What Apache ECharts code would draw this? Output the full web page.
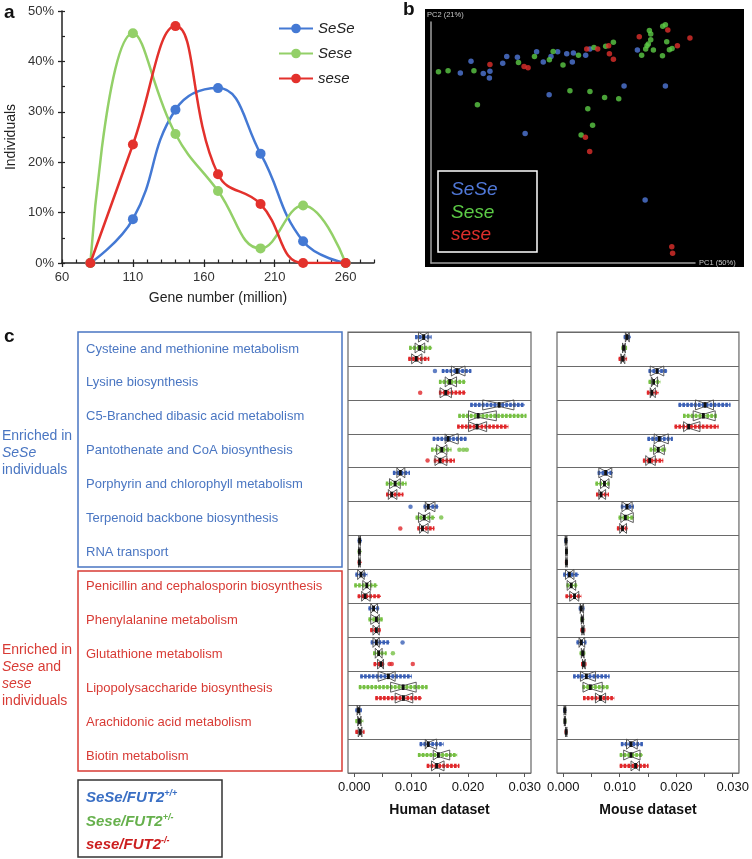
<!DOCTYPE html>
<html>
<head>
<meta charset="utf-8">
<script src="https://cdn.jsdelivr.net/npm/echarts@6/dist/echarts.min.js"></script>
<style>
  html, body { margin: 0; padding: 0; background: #fff; }
  #chart { width: 752px; height: 859px; }
</style>
</head>
<body>
<div id="chart"></div>
<script>
// ---- panel a: gene number distribution ----
const geneNumbers = [80, 110, 140, 170, 200, 230, 260];
const pctSeSe = [0, 8.7, 30.4, 34.7, 21.7, 4.3, 0];
const pctSese = [0, 45.6, 25.6, 14.3, 2.9, 11.4, 0];
const pctsese = [0, 23.5, 47.0, 17.6, 11.7, 0, 0];

// ---- panel b: PCA scores [PC1, PC2] ----
const pcaSeSe = [[15, 75.3], [11, 71], [19.6, 70.8], [22.1, 71.6], [21.9, 69.1], [26.9, 74.6], [28.4, 77.1],
  [32.4, 76.8], [39.6, 78.9], [42.1, 75.1], [45, 77.1], [47.5, 78.9], [50.9, 78.1], [53.4, 78.4], [53, 75.1],
  [58, 77.6], [59.6, 79.9], [44.3, 62.8], [35.3, 48.4], [72.4, 66.1], [77.4, 79.5], [87.9, 66.1], [80.3, 23.5]];
const pcaSese = [[2.8, 71.4], [6.4, 71.8], [16.1, 71.8], [17.4, 59.1], [32.8, 74.9], [38.8, 77.1], [44.4, 75.9],
  [45.8, 79], [49.5, 73.9], [55.3, 77.6], [61.1, 80.5], [65.5, 80.9], [68.4, 82.4], [52.1, 64.3], [59.6, 64],
  [58.8, 57.6], [60.6, 51.4], [56.3, 47.8], [65.1, 61.8], [70.4, 61.3], [79, 77.6], [80.5, 79.9], [81, 81.1],
  [81.9, 86.8], [82.4, 85.5], [82.4, 83.4], [81.5, 81.8], [83.4, 79.5], [86.8, 77.4], [86.9, 88.4], [87.9, 89],
  [88.4, 82.6], [89.4, 79.6], [90.4, 80.1]];
const pcasese = [[22.1, 74.1], [34.9, 73.4], [36.4, 72.9], [58.4, 79.9], [62.5, 79.9], [66.6, 81.1], [66.9, 78.1],
  [68.4, 76.1], [78.1, 84.5], [88.8, 87], [92.4, 81.1], [97.1, 84], [57.9, 47], [59.5, 41.6], [90.3, 6.1], [90.6, 3.6]];

// ---- panel c: relative abundance (x 1e-3), [min, q1, median, q3, max] per pathway ----
const pathways = ['Cysteine and methionine metabolism', 'Lysine biosynthesis', 'C5-Branched dibasic acid metabolism',
  'Pantothenate and CoA biosynthesis', 'Porphyrin and chlorophyll metabolism', 'Terpenoid backbone biosynthesis',
  'RNA transport', 'Penicillin and cephalosporin biosynthesis', 'Phenylalanine metabolism', 'Glutathione metabolism',
  'Lipopolysaccharide biosynthesis', 'Arachidonic acid metabolism', 'Biotin metabolism'];

const humanSeSe = [[10.7, 11.3, 12.2, 13.0, 13.6], [15.4, 17.1, 18.1, 19.5, 20.6], [20.4, 22.6, 25.5, 28.1, 30.0],
  [13.8, 16.0, 16.5, 18.3, 19.8], [6.8, 7.5, 8.1, 8.9, 9.8], [12.2, 12.5, 13.0, 14.2, 14.8], [0.6, 0.8, 0.95, 1.1, 1.35],
  [0.2, 0.6, 1.2, 1.75, 2.3], [2.5, 2.9, 3.4, 4.1, 4.4], [2.9, 3.3, 3.9, 4.4, 6.2], [1.05, 4.2, 6.0, 7.2, 10.1],
  [0.2, 0.5, 0.75, 1.0, 1.35], [11.5, 12.5, 13.0, 14.5, 15.7]];
const humanSese = [[9.65, 10.7, 11.5, 12.4, 13.7], [14.9, 16.0, 16.8, 18.0, 19.6], [18.3, 20.1, 21.8, 25.0, 30.3],
  [13.5, 14.5, 15.4, 16.3, 17.1], [5.55, 6.2, 7.2, 8.1, 9.2], [10.8, 11.3, 12.3, 13.3, 14.2], [0.6, 0.75, 0.9, 1.05, 1.3],
  [0.0, 1.5, 2.2, 2.9, 4.1], [2.5, 2.9, 3.9, 4.4, 5.0], [3.3, 3.7, 4.3, 4.9, 5.7], [0.8, 6.4, 8.6, 10.9, 12.9],
  [0.2, 0.6, 0.9, 1.2, 1.6], [11.2, 13.9, 14.8, 16.8, 18.1]];
const humansese = [[9.5, 10.1, 10.9, 11.9, 13.2], [14.9, 15.1, 16.1, 17.1, 19.6], [18.1, 20.1, 21.6, 23.3, 27.1],
  [14.0, 14.2, 15.1, 16.3, 17.7], [5.6, 6.0, 6.6, 7.5, 8.65], [11.1, 11.5, 12.0, 13.0, 14.1], [0.6, 0.75, 0.9, 1.05, 1.3],
  [0.6, 1.3, 1.9, 2.8, 4.7], [2.8, 3.3, 3.9, 4.4, 4.7], [3.4, 4.1, 4.7, 5.15, 5.3], [3.7, 7.2, 8.65, 10.3, 11.9],
  [0.2, 0.7, 1.05, 1.35, 1.8], [12.75, 13.6, 14.5, 15.8, 18.5]];
// [pathway index, group (0 SeSe, 1 Sese, 2 sese), value]
const humanOutliers = [[1, 0, 14.2], [1, 2, 11.6], [3, 1, 18.5], [3, 1, 19.2], [3, 1, 19.8], [3, 2, 12.9],
  [5, 0, 9.9], [5, 1, 15.3], [5, 2, 8.1], [9, 0, 8.5], [9, 1, 6.8], [9, 2, 6.2], [9, 2, 6.6], [9, 2, 10.3]];

const mouseSeSe = [[10.7, 11.0, 11.3, 11.7, 12.0], [15.1, 15.4, 16.6, 17.8, 18.4], [20.4, 23.4, 25.1, 26.6, 29.6],
  [14.9, 16.1, 17.0, 18.6, 19.4], [6.1, 6.3, 7.5, 8.6, 8.8], [10.2, 10.4, 11.3, 12.2, 12.5], [0.2, 0.35, 0.5, 0.65, 0.8],
  [0.0, 0.4, 1.1, 1.9, 2.75], [2.75, 3.0, 3.2, 3.6, 3.75], [2.35, 2.8, 3.2, 3.8, 4.1], [1.75, 3.05, 4.1, 5.7, 8.2],
  [0.0, 0.15, 0.3, 0.45, 0.6], [10.2, 11.2, 12.0, 13.1, 14.1]];
const mouseSese = [[10.3, 10.5, 10.7, 11.0, 11.3], [15.1, 15.6, 16.0, 16.7, 17.2], [21.2, 23.0, 24.8, 26.9, 27.2],
  [15.3, 16.0, 16.8, 17.9, 18.2], [5.7, 6.6, 7.3, 8.1, 8.2], [9.8, 10.2, 11.0, 12.4, 12.5], [0.35, 0.45, 0.57, 0.7, 0.8],
  [0.57, 0.7, 1.4, 2.2, 2.5], [3.05, 3.2, 3.35, 3.6, 3.75], [2.9, 3.2, 3.45, 3.7, 3.9], [3.4, 3.5, 4.8, 6.9, 8.05],
  [0.1, 0.2, 0.3, 0.4, 0.55], [10.0, 10.7, 12.0, 13.6, 14.1]];
const mousesese = [[9.8, 10.2, 10.5, 10.9, 11.3], [14.8, 15.4, 15.7, 16.3, 16.9], [19.7, 21.3, 22.2, 24.2, 27.5],
  [14.1, 14.6, 15.3, 16.3, 17.7], [5.8, 6.3, 6.7, 7.5, 8.1], [9.5, 10.0, 10.5, 11.2, 11.4], [0.3, 0.45, 0.57, 0.7, 0.85],
  [0.4, 1.15, 2.0, 2.75, 3.2], [3.05, 3.3, 3.45, 3.7, 3.9], [3.15, 3.4, 3.6, 3.9, 4.1], [3.5, 5.7, 6.6, 7.5, 9.05],
  [0.25, 0.4, 0.52, 0.65, 0.8], [10.0, 12.0, 12.8, 13.5, 15.1]];

const xLabelsA = [60, 110, 160, 210, 260];
const xLabelsC = [0, 10, 20, 30];

const FONT = 'Liberation Sans, Arial, sans-serif';
const lineColors = ['#4479d4', '#93d068', '#e3312c'];
const dotColors = ['#3a5fb5', '#76c043', '#e0272a'];
const pcaColors = ['#5078d8', '#5ccb46', '#df2f2c'];
const blueText = '#4a76c2';
const redText = '#d83b35';
const groupOffsets = [0.15, 0.47, 0.79];

const chart = echarts.init(document.getElementById('chart'));

function range(a, b, step) {
  const out = [];
  for (let v = a; v <= b + 1e-9; v += step) out.push(v);
  return out;
}

function strips(rows, group) {
  return rows.map((d, i) => [i + groupOffsets[group]].concat(d));
}

function renderStrip(color) {
  return function (params, api) {
    const y = api.value(0);
    const mn = api.coord([api.value(1), y]);
    const q1 = api.coord([api.value(2), y]);
    const md = api.coord([api.value(3), y]);
    const q3 = api.coord([api.value(4), y]);
    const mx = api.coord([api.value(5), y]);
    const cy = md[1];
    const h = 5, w = 1.5;
    const n = Math.max(3, (q3[0] - q1[0]) * 0.7);
    const nl = Math.max(q1[0], md[0] - n);
    const nr = Math.min(q3[0], md[0] + n);
    return {
      type: 'group',
      children: [
        { type: 'line', shape: { x1: mn[0], y1: cy, x2: mx[0], y2: cy },
          style: { stroke: color, lineWidth: 1.3 } },
        { type: 'line', shape: { x1: mn[0], y1: cy, x2: mx[0], y2: cy },
          style: { stroke: color, lineWidth: 4.2, lineDash: [2.6, 1.3] } },
        { type: 'polygon', shape: { points: [[q1[0], cy - h], [nl, cy - h], [md[0], cy - w], [nr, cy - h], [q3[0], cy - h],
          [q3[0], cy + h], [nr, cy + h], [md[0], cy + w], [nl, cy + h], [q1[0], cy + h]] },
          style: { fill: 'none', stroke: '#4a4a4a', lineWidth: 0.9 } },
        { type: 'rect', shape: { x: md[0] - 1.4, y: cy - 2.8, width: 2.8, height: 5.6 }, style: { fill: '#111' } }
      ]
    };
  };
}

function stripSeries(rows, group, axis) {
  return {
    type: 'custom', xAxisIndex: axis, yAxisIndex: axis === 3 ? 3 : 5,
    renderItem: renderStrip(dotColors[group]),
    encode: { x: [1, 2, 3, 4, 5], y: 0 },
    data: strips(rows, group), silent: true, z: 3
  };
}

const cAxisX = (gridIndex, name) => ({
  type: 'value', gridIndex, min: -1.1, max: 31.1, position: 'bottom',
  axisLine: { show: false, onZero: false },
  axisTick: { show: true, length: 4, customValues: range(0, 30, 5), lineStyle: { color: '#555', width: 1 } },
  axisLabel: { customValues: xLabelsC, formatter: v => (v / 1000).toFixed(3), fontSize: 13, color: '#111',
    fontFamily: FONT, margin: 8 },
  splitLine: { show: false },
  name, nameLocation: 'middle', nameGap: 30,
  nameTextStyle: { fontSize: 14, fontWeight: 'bold', color: '#111', fontFamily: FONT }
});

const cAxisY = (gridIndex) => ({
  type: 'value', gridIndex, min: 0, max: 13, interval: 1, inverse: true,
  axisLine: { show: false }, axisTick: { show: false }, axisLabel: { show: false },
  splitLine: { show: true, lineStyle: { color: '#6a6a6a', width: 1.2 } }
});

const option = {
  animation: false,
  backgroundColor: '#fff',
  textStyle: { fontFamily: FONT },
  grid: [
    { left: 62, top: 11, width: 312, height: 252 },
    { left: 431, top: 22, width: 264, height: 241 },
    { left: 348, top: 332, width: 183, height: 441, show: true, borderColor: '#666', borderWidth: 1.2 },
    { left: 557, top: 332, width: 184, height: 441, show: true, borderColor: '#666', borderWidth: 1.2 }
  ],
  legend: {
    data: ['SeSe', 'Sese', 'sese'], orient: 'vertical', left: 273, top: 16,
    itemWidth: 34, itemHeight: 12, itemGap: 10,
    textStyle: { fontStyle: 'italic', fontSize: 15, color: '#222', fontFamily: FONT }
  },
  xAxis: [
    { type: 'value', gridIndex: 0, min: 60, max: 280,
      axisLine: { lineStyle: { color: '#222', width: 1.5 } },
      axisTick: { length: 4, customValues: xLabelsA, lineStyle: { color: '#222', width: 1.3 } },
      axisLabel: { customValues: xLabelsA, fontSize: 13, color: '#333', fontFamily: FONT },
      splitLine: { show: false },
      name: 'Gene number (million)', nameLocation: 'middle', nameGap: 28,
      nameTextStyle: { fontSize: 14, color: '#222', fontFamily: FONT } },
    { type: 'value', gridIndex: 0, min: 60, max: 280, position: 'bottom',
      axisLine: { show: false },
      axisTick: { inside: true, length: 3.5, customValues: range(60, 280, 10), lineStyle: { color: '#222', width: 1.2 } },
      axisLabel: { show: false }, splitLine: { show: false } },
    { type: 'value', gridIndex: 1, min: 0, max: 99,
      axisLine: { lineStyle: { color: '#a0a0a0', width: 1.5 } },
      axisTick: { show: false }, axisLabel: { show: false }, splitLine: { show: false },
      name: 'PC1 (50%)', nameLocation: 'end', nameGap: 4,
      nameTextStyle: { fontSize: 7.5, color: '#c8c8c8', fontFamily: FONT } },
    cAxisX(2, 'Human dataset'),
    cAxisX(3, 'Mouse dataset')
  ],
  yAxis: [
    { type: 'value', gridIndex: 0, min: 0, max: 50, interval: 10,
      axisLine: { show: true, lineStyle: { color: '#222', width: 1.5 } },
      axisTick: { show: true, length: 4, lineStyle: { color: '#222', width: 1.3 } },
      axisLabel: { formatter: '{value}%', fontSize: 13, color: '#333', fontFamily: FONT },
      splitLine: { show: false },
      name: 'Individuals', nameLocation: 'middle', nameGap: 44,
      nameTextStyle: { fontSize: 14, color: '#222', fontFamily: FONT } },
    { type: 'value', gridIndex: 0, min: 0, max: 50, position: 'left',
      axisLine: { show: false },
      axisTick: { show: true, inside: true, length: 3, customValues: range(0, 50, 5), lineStyle: { color: '#222', width: 1.2 } },
      axisLabel: { show: false }, splitLine: { show: false } },
    { type: 'value', gridIndex: 1, min: 0, max: 90,
      axisLine: { show: true, lineStyle: { color: '#a0a0a0', width: 1.5 } },
      axisTick: { show: false }, axisLabel: { show: false }, splitLine: { show: false },
      name: 'PC2 (21%)', nameLocation: 'end', nameGap: 3,
      nameTextStyle: { fontSize: 7.5, color: '#c8c8c8', align: 'left', padding: [0, 0, 0, -4], fontFamily: FONT } },
    cAxisY(2),
    { type: 'category', gridIndex: 2, data: pathways, inverse: true, position: 'left',
      axisLine: { show: false }, axisTick: { show: false },
      axisLabel: { align: 'left', margin: 262, fontSize: 13, fontFamily: FONT, padding: [8, 0, 0, 0],
        color: (v, i) => (i < 7 ? blueText : redText) } },
    cAxisY(3)
  ],
  graphic: [
    { type: 'text', x: 4, y: 13, style: { text: 'a', font: 'bold 19px ' + FONT, fill: '#111', textVerticalAlign: 'middle' } },
    { type: 'text', x: 403, y: 10, style: { text: 'b', font: 'bold 19px ' + FONT, fill: '#111', textVerticalAlign: 'middle' } },
    { type: 'text', x: 4, y: 337, style: { text: 'c', font: 'bold 19px ' + FONT, fill: '#111', textVerticalAlign: 'middle' } },
    { type: 'rect', z: -10, shape: { x: 425, y: 9, width: 319, height: 258 }, style: { fill: '#000' } },
    { type: 'rect', z: 5, shape: { x: 438, y: 171, width: 99, height: 81 }, style: { fill: 'none', stroke: '#fff', lineWidth: 1.5 } },
    { type: 'text', z: 5, x: 451, y: 190, style: { text: 'SeSe', font: 'italic 19px ' + FONT, fill: pcaColors[0], textVerticalAlign: 'middle' } },
    { type: 'text', z: 5, x: 451, y: 213, style: { text: 'Sese', font: 'italic 19px ' + FONT, fill: pcaColors[1], textVerticalAlign: 'middle' } },
    { type: 'text', z: 5, x: 451, y: 235, style: { text: 'sese', font: 'italic 19px ' + FONT, fill: pcaColors[2], textVerticalAlign: 'middle' } },
    { type: 'rect', shape: { x: 78, y: 332, width: 264, height: 235 }, style: { fill: 'none', stroke: blueText, lineWidth: 1.5 } },
    { type: 'rect', shape: { x: 78, y: 571, width: 264, height: 200 }, style: { fill: 'none', stroke: redText, lineWidth: 1.5 } },
    { type: 'text', x: 2, y: 428, style: {
      text: '{n|Enriched in}\n{i|SeSe}\n{n|individuals}', fill: blueText,
      rich: { n: { fontSize: 14, lineHeight: 17, fontFamily: FONT, fill: blueText },
              i: { fontSize: 14, lineHeight: 17, fontFamily: FONT, fontStyle: 'italic', fill: blueText } } } },
    { type: 'text', x: 2, y: 642, style: {
      text: '{n|Enriched in}\n{i|Sese}{n| and}\n{i|sese}\n{n|individuals}', fill: redText,
      rich: { n: { fontSize: 14, lineHeight: 17, fontFamily: FONT, fill: redText },
              i: { fontSize: 14, lineHeight: 17, fontFamily: FONT, fontStyle: 'italic', fill: redText } } } },
    { type: 'rect', shape: { x: 78, y: 780, width: 144, height: 77 }, style: { fill: 'none', stroke: '#333', lineWidth: 1.5 } },
    { type: 'text', x: 86, y: 789, style: {
      text: '{b|SeSe/FUT2}{s|+/+}', rich: {
        b: { font: 'italic bold 15px ' + FONT, fill: '#3a6fc4', lineHeight: 18 },
        s: { font: 'italic bold 9px ' + FONT, fill: '#3a6fc4', lineHeight: 18, verticalAlign: 'top' } } } },
    { type: 'text', x: 86, y: 813, style: {
      text: '{b|Sese/FUT2}{s|+/-}', rich: {
        b: { font: 'italic bold 15px ' + FONT, fill: '#66b04c', lineHeight: 18 },
        s: { font: 'italic bold 9px ' + FONT, fill: '#66b04c', lineHeight: 18, verticalAlign: 'top' } } } },
    { type: 'text', x: 86, y: 836, style: {
      text: '{b|sese/FUT2}{s|-/-}', rich: {
        b: { font: 'italic bold 15px ' + FONT, fill: '#cc1f1f', lineHeight: 18 },
        s: { font: 'italic bold 9px ' + FONT, fill: '#cc1f1f', lineHeight: 18, verticalAlign: 'top' } } } }
  ],
  series: [
    ...[pctSeSe, pctSese, pctsese].map((vals, g) => ({
      name: ['SeSe', 'Sese', 'sese'][g], type: 'line', xAxisIndex: 0, yAxisIndex: 0,
      data: geneNumbers.map((x, i) => [x, vals[i]]),
      smooth: 0.45, symbol: 'circle', symbolSize: 10,
      lineStyle: { color: lineColors[g], width: 2.5 },
      itemStyle: { color: lineColors[g] }, z: 3 + g
    })),
    ...[pcaSeSe, pcaSese, pcasese].map((pts, g) => ({
      name: ['SeSe', 'Sese', 'sese'][g], type: 'scatter', xAxisIndex: 2, yAxisIndex: 2,
      data: pts, symbolSize: 5.5, itemStyle: { color: pcaColors[g] }, z: 4
    })),
    stripSeries(humanSeSe, 0, 3), stripSeries(humanSese, 1, 3), stripSeries(humansese, 2, 3),
    stripSeries(mouseSeSe, 0, 4), stripSeries(mouseSese, 1, 4), stripSeries(mousesese, 2, 4),
    { type: 'scatter', xAxisIndex: 3, yAxisIndex: 3, symbolSize: 4.5, z: 4,
      data: humanOutliers.map(o => [o[2], o[0] + groupOffsets[o[1]], o[1]]),
      encode: { x: 0, y: 1 },
      itemStyle: { color: p => dotColors[p.data[2]] } }
  ]
};

chart.setOption(option);
</script>
</body>
</html>
